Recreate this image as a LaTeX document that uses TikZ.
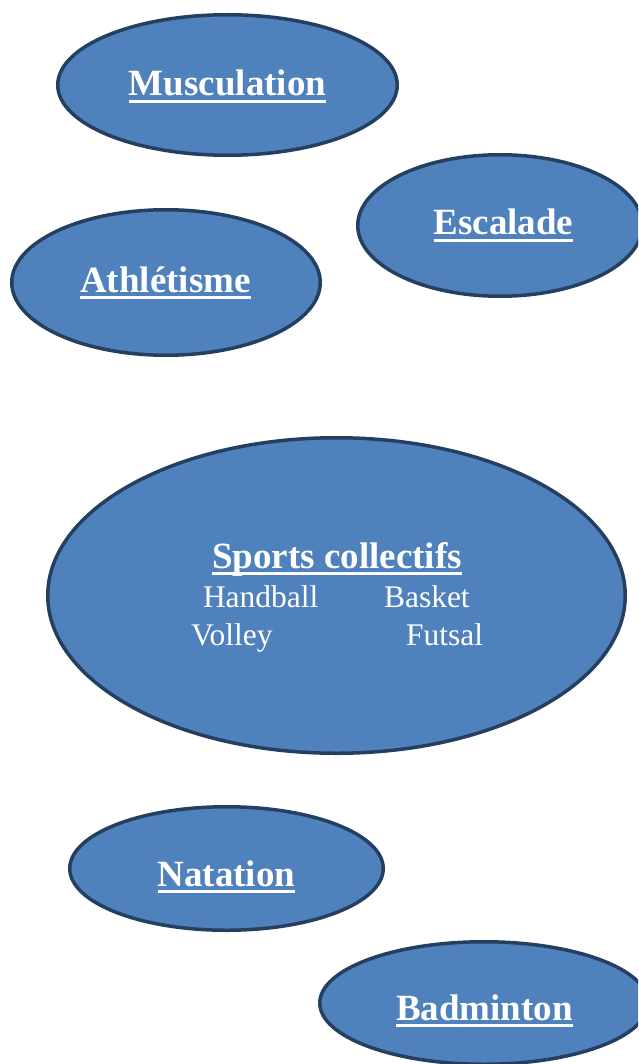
\documentclass[tikz,border=0pt]{standalone}
\usepackage{fontspec}
\setmainfont{Liberation Serif}
\usetikzlibrary{shapes.geometric}
\definecolor{bleu}{HTML}{4F81BD}
\definecolor{bleufonce}{HTML}{243F60}
\newcommand{\souligne}[1]{\setbox0\hbox{#1}\rlap{\rule[-7pt]{\wd0}{3.2pt}}\box0}

\begin{document}
\begin{tikzpicture}[x=1pt, y=-1pt, every node/.style={inner sep=0pt, outer sep=0pt, text=white},
    bulle/.style={ellipse, draw=bleufonce, fill=bleu, line width=3.5pt},
    titre/.style={anchor=base, font=\fontsize{37}{40}\selectfont\bfseries},
    sport/.style={anchor=base west, font=\fontsize{31.5}{34}\selectfont}]
			\useasboundingbox (0,0) rectangle (638,1064);
			\clip (0,0) rectangle (638,1064);
			
			% bulles
			\node[bulle, minimum width=339.5pt, minimum height=140.5pt] (musc) at (227.5,85){};
			\node[bulle, minimum width=284.5pt, minimum height=141.5pt] (esca) at (500,225.5){};
			\node[bulle, minimum width=308.5pt, minimum height=145.5pt] (athl) at (166,282.5){};
			\node[bulle, minimum width=577.5pt, minimum height=315.5pt] (coll) at (336.5,595.5){};
			\node[bulle, minimum width=313.5pt, minimum height=123.5pt] (nata) at (226.5,868.5){};
			\node[bulle, minimum width=328.5pt, minimum height=122.5pt] (badm) at (484,1003){};
			
			% titres
			\node[titre] (musc-t) at (227.5,96){\souligne{Musculation}};
			\node[titre] (esca-t) at (503.5,235){\souligne{Escalade}};
			\node[titre] (athl-t) at (165.5,292){\souligne{Athlétisme}};
			\node[titre] (coll-t) at (337,568){\souligne{Sports collectifs}};
			\node[titre] (nata-t) at (226.5,886){\souligne{Natation}};
			\node[titre] (badm-t) at (484.5,1020){\souligne{Badminton}};
			
			% sports collectifs
			\node[sport] (hand) at (203,607){Handball};
			\node[sport] (bask) at (384,607){Basket};
			\node[sport] (voll) at (191,645){Volley};
			\node[sport] (futs) at (406,645){Futsal};
\end{tikzpicture}
\end{document}
